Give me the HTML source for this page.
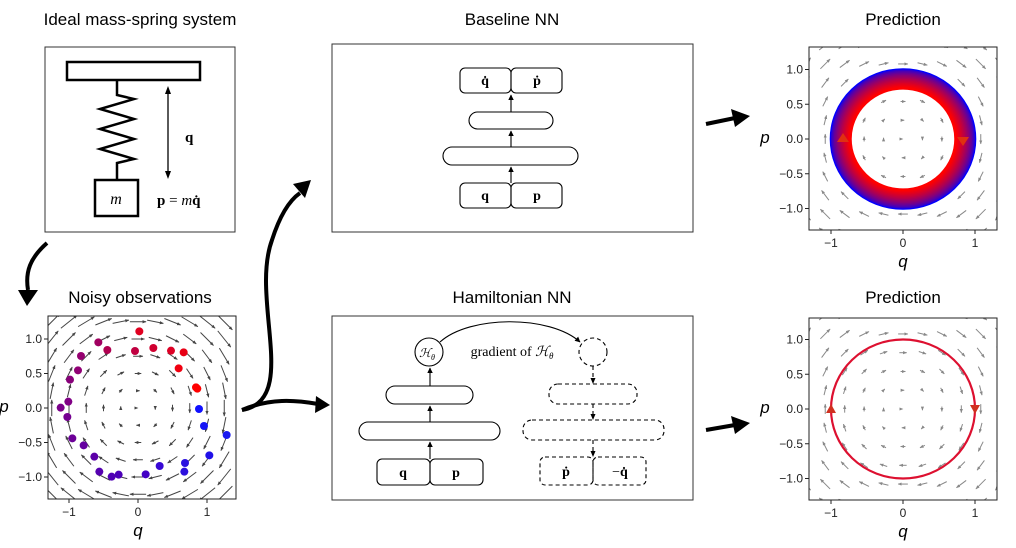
<!DOCTYPE html>
<html><head><meta charset="utf-8"><style>
html,body{margin:0;padding:0;background:#fff;}
svg{display:block;font-family:"Liberation Sans",sans-serif;}
.serif{font-family:"Liberation Serif",serif;}
</style></head><body>
<svg id="s" width="1016" height="548" viewBox="0 0 1016 548" xmlns="http://www.w3.org/2000/svg">
<defs>
<marker id="ah" viewBox="0 0 10 10" refX="9" refY="5" markerWidth="5" markerHeight="5" orient="auto"><path d="M0,0 L10,5 L0,10 z" fill="#000"/></marker>
<marker id="qa" viewBox="0 0 10 10" refX="9" refY="5" markerWidth="4" markerHeight="4" orient="auto"><path d="M0,1 L10,5 L0,9 z" fill="#444"/></marker>
<marker id="qb" viewBox="0 0 10 10" refX="9" refY="5" markerWidth="4" markerHeight="4" orient="auto"><path d="M0,1 L10,5 L0,9 z" fill="#888"/></marker>
<clipPath id="c1"><rect x="48" y="316" width="188" height="183"/></clipPath>
<clipPath id="c2"><rect x="809" y="47" width="188" height="183"/></clipPath>
<clipPath id="c3"><rect x="809" y="318" width="188" height="182"/></clipPath>
</defs>
<g font-size="17" text-anchor="middle" fill="#000">
<text x="140" y="25">Ideal mass-spring system</text>
<text x="512" y="25">Baseline NN</text>
<text x="903" y="25">Prediction</text>
<text x="140" y="303">Noisy observations</text>
<text x="512" y="303">Hamiltonian NN</text>
<text x="903" y="303">Prediction</text>
</g>
<!-- mass spring -->
<rect x="45" y="47" width="190" height="185" fill="none" stroke="#333" stroke-width="1"/>
<rect x="67" y="62" width="133" height="18" fill="none" stroke="#000" stroke-width="2.5"/>
<polyline points="117,80 117,95 134,99 100,109 134,119 100,129 134,139 100,149 134,159 117,163 117,180" fill="none" stroke="#000" stroke-width="2.5"/>
<rect x="95" y="180" width="43" height="36" fill="none" stroke="#000" stroke-width="2.5"/>
<text x="116" y="204" class="serif" font-style="italic" font-size="16" text-anchor="middle">m</text>
<line x1="168" y1="90" x2="168" y2="175" stroke="#000" stroke-width="1.3"/>
<path d="M168,86 l-3,8 h6z M168,179 l-3,-8 h6z" fill="#000"/>
<text x="185" y="142" class="serif" font-weight="bold" font-size="15">q</text>
<text x="157" y="205" class="serif" font-size="15"><tspan font-weight="bold">p</tspan> = <tspan font-style="italic">m</tspan><tspan font-weight="bold">q̇</tspan></text>
<!-- baseline NN -->
<rect x="332" y="44" width="361" height="188" fill="none" stroke="#333" stroke-width="1"/>
<g fill="none" stroke="#000" stroke-width="1.1">
<rect x="460" y="68" width="51" height="25" rx="5"/><rect x="511" y="68" width="51" height="25" rx="5"/>
<rect x="469" y="112" width="84" height="17" rx="8.5"/>
<rect x="443" y="147" width="135" height="18" rx="9"/>
<rect x="460" y="183" width="51" height="25" rx="5"/><rect x="511" y="183" width="51" height="25" rx="5"/>
<line x1="511" y1="183" x2="511" y2="167" marker-end="url(#ah)"/>
<line x1="511" y1="147" x2="511" y2="131" marker-end="url(#ah)"/>
<line x1="511" y1="112" x2="511" y2="95" marker-end="url(#ah)"/>
</g>
<g class="serif" font-size="14" font-weight="bold" text-anchor="middle">
<text x="485" y="85">q̇</text><text x="537" y="85">ṗ</text>
<text x="485" y="200">q</text><text x="537" y="200">p</text>
</g>
<!-- Hamiltonian NN -->
<rect x="332" y="316" width="361" height="184" fill="none" stroke="#333" stroke-width="1"/>
<g fill="none" stroke="#000" stroke-width="1.1">
<circle cx="429" cy="352" r="14"/>
<rect x="386" y="386" width="87" height="18" rx="9"/>
<rect x="359" y="422" width="141" height="18" rx="9"/>
<rect x="377" y="459" width="53" height="26" rx="5"/><rect x="430" y="459" width="53" height="26" rx="5"/>
<line x1="430" y1="459" x2="430" y2="442" marker-end="url(#ah)"/>
<line x1="430" y1="422" x2="430" y2="406" marker-end="url(#ah)"/>
<line x1="430" y1="386" x2="430" y2="368" marker-end="url(#ah)"/>
<path d="M440,342 C470,315 550,315 580,342" marker-end="url(#ah)"/>
<g stroke-dasharray="4,3">
<circle cx="593" cy="352" r="14"/>
<rect x="549" y="384" width="88" height="20" rx="9"/>
<rect x="523" y="420" width="141" height="20" rx="9"/>
<rect x="540" y="457" width="53" height="28" rx="5"/><rect x="593" y="457" width="53" height="28" rx="5"/>
<line x1="593" y1="366" x2="593" y2="382"/>
<line x1="593" y1="404" x2="593" y2="418"/>
<line x1="593" y1="440" x2="593" y2="455"/>
</g>
</g>
<path d="M593,384 l-2.5,-6 h5z M593,420 l-2.5,-6 h5z M593,457 l-2.5,-6 h5z" fill="#000"/>
<text x="512" y="356" class="serif" font-size="14" text-anchor="middle">gradient of <tspan font-style="italic">ℋ</tspan><tspan font-size="9" font-style="italic" dy="3">θ</tspan></text>
<text x="427" y="357" class="serif" font-size="12" font-style="italic" text-anchor="middle">ℋ<tspan font-size="8" dy="3">θ</tspan></text>
<g class="serif" font-size="14" font-weight="bold" text-anchor="middle">
<text x="403" y="477">q</text><text x="456" y="477">p</text>
<text x="566" y="476">ṗ</text><text x="620" y="476"><tspan font-weight="normal">−</tspan>q̇</text>
</g>
<!-- big arrows -->
<g fill="none" stroke="#000" stroke-width="4">
<path d="M47,243 C30,258 25,272 28,290"/>
<path d="M242,410 C300,400 250,300 272,240 C280,215 290,200 300,193"/>
<path d="M242,410 C270,398 295,400 318,404"/>
<line x1="706" y1="124" x2="735" y2="118"/>
<line x1="706" y1="430" x2="735" y2="425"/>
</g>
<g fill="#000">
<path d="M18,290 L38,290 L27,306 z"/>
<path d="M293,184 L311,180 L305,198 z"/>
<path d="M316,396 L330,405 L315,413 z"/>
<path d="M731,109 L750,116 L735,127 z"/>
<path d="M731,416 L750,423 L735,434 z"/>
</g>
<g id="plots"></g>
</svg>
<script>
var NS="http://www.w3.org/2000/svg",P=document.getElementById("plots");
function el(t,a,txt,par){var e=document.createElementNS(NS,t);for(var k in a)e.setAttribute(k,a[k]);if(txt!=null)e.textContent=txt;(par||P).appendChild(e);return e;}
function plot(x0,y0,x1,y1,cx,cy,sx,sy,dark,clip){
  var col=dark?"#444":"#888",L=dark?13:9,step=dark?0.25:0.27,n=dark?5:5;
  var g=el("g",{"clip-path":"url(#"+clip+")"});
  for(var i=-n;i<=n;i++)for(var j=-n;j<=n;j++){
    var q=i*step,p=j*step;var px=cx+q*sx,py=cy-p*sy;
    var dx=p*L,dy=q*L;
    el("line",{x1:px-dx/2,y1:py-dy/2,x2:px+dx/2,y2:py+dy/2,stroke:col,"stroke-width":1,"marker-end":dark?"url(#qa)":"url(#qb)"},null,g);
  }
  el("rect",{x:x0,y:y0,width:x1-x0,height:y1-y0,fill:"none",stroke:"#222","stroke-width":1});
  [-1,0,1].forEach(function(v){var x=cx+v*sx;el("line",{x1:x,y1:y1,x2:x,y2:y1+4,stroke:"#222"});
    el("text",{x:x,y:y1+17,"font-size":12,"text-anchor":"middle",fill:"#222"},v<0?"−1":String(v));});
  [1,0.5,0,-0.5,-1].forEach(function(v){var y=cy-v*sy;el("line",{x1:x0-4,y1:y,x2:x0,y2:y,stroke:"#222"});
    el("text",{x:x0-6,y:y+4,"font-size":12,"text-anchor":"end",fill:"#222"},(v<0?"−":"")+Math.abs(v).toFixed(1));});
  el("text",{x:cx,y:y1+37,"font-size":17,"font-style":"italic","text-anchor":"middle"},"q");
  el("text",{x:x0-44,y:cy+4,"font-size":17,"font-style":"italic","text-anchor":"middle"},"p");
}
plot(48,316,236,499,138,408,69,69,true,"c1");
plot(809,47,997,230,903,139,72,69.5,false,"c2");
plot(809,318,997,500,903,409,72,69.5,false,"c3");
var d=[[418,94,"#e00020"],[295,127,"#a00060"],[322,150,"#b00050"],[405,153,"#c00040"],[460,144,"#d00030"],[513,152,"#dd0025"],[551,157,"#e80015"],[536,205,"#f00010"],[243,168,"#950070"],[234,211,"#900075"],[210,239,"#88007a"],[588,262,"#ff0000"],[592,266,"#ff0000"],[205,305,"#800085"],[182,323,"#7a008a"],[202,351,"#740090"],[597,327,"#1010ff"],[612,378,"#1515f5"],[680,405,"#1a1af0"],[217,415,"#6c0098"],[251,436,"#6400a0"],[283,470,"#5c00a8"],[628,466,"#2010e8"],[555,489,"#2a10e0"],[479,498,"#3808d5"],[553,515,"#2c10dd"],[298,515,"#5500b0"],[335,530,"#5000b5"],[356,524,"#4c00b8"],[437,523,"#4200c5"]];
d.forEach(function(a){el("circle",{cx:a[0]/3,cy:a[1]/3+300,r:4,fill:a[2]});});
for(var k=0;k<=14;k++){var t=k/14;var r=0.73+0.27*(1-t);
  var tt=Math.pow(t,0.6);var R=Math.round(255*tt),B=Math.round(255*(1-tt));
  el("ellipse",{cx:903,cy:139,rx:r*72,ry:r*69.5,fill:"none",stroke:"rgb("+R+",0,"+B+")","stroke-width":2.6});}
el("path",{d:"M843,133 l-6,9 h12z",fill:"#e03010"});
el("path",{d:"M963,146 l-6,-9 h12z",fill:"#e03010"});
el("ellipse",{cx:903,cy:409,rx:72,ry:69.5,fill:"none",stroke:"#dd1030","stroke-width":2.2});
el("path",{d:"M831,404 l-5,9 h10z",fill:"#d03020"});
el("path",{d:"M975,414 l-5,-9 h10z",fill:"#d03020"});
</script>
</body></html>
